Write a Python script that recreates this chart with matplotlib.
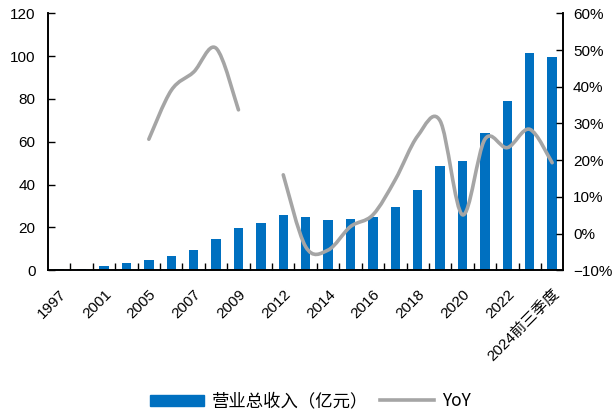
import matplotlib
matplotlib.use("Agg")
import matplotlib.pyplot as plt
from matplotlib.path import Path
from matplotlib.patches import PathPatch, Patch
from matplotlib.lines import Line2D
from matplotlib.ticker import FuncFormatter
from matplotlib.transforms import ScaledTranslation

plt.rcParams["font.family"] = ["Liberation Sans", "Noto Sans CJK SC", "DejaVu Sans"]

years = ["1997", "1999", "2001", "2003", "2005", "2006", "2007", "2008", "2009",
         "2011", "2012", "2013", "2014", "2015", "2016", "2017", "2018", "2019",
         "2020", "2021", "2022", "2023", "2024前三季度"]
revenue = [0.4, 0.7, 1.8, 3.6, 4.8, 6.6, 9.6, 14.7, 19.8,
           22.3, 25.9, 25.0, 23.7, 24.0, 25.1, 29.5, 37.3, 48.8,
           51.1, 64.1, 79.2, 101.3, 99.8]
yoy = [None, None, None, None, 25.7, 39.0, 44.0, 50.5, 33.7,
       None, 16.0, -3.6, -4.5, 1.9, 5.1, 14.7, 26.6, 30.7,
       5.1, 25.7, 23.4, 28.4, 19.3]

BAR = "#0070C0"
GRAY = "#A5A5A5"


def smooth_path(xs, ys):
    # Excel-like smoothed line: cubic Bezier through every point
    pts = list(zip(xs, ys))
    verts = [pts[0]]
    codes = [Path.MOVETO]
    n = len(pts)
    for i in range(n - 1):
        p0 = pts[i - 1] if i > 0 else pts[i]
        p1 = pts[i]
        p2 = pts[i + 1]
        p3 = pts[i + 2] if i + 2 < n else pts[i + 1]
        c1 = (p1[0] + (p2[0] - p0[0]) / 6, p1[1] + (p2[1] - p0[1]) / 6)
        c2 = (p2[0] - (p3[0] - p1[0]) / 6, p2[1] - (p3[1] - p1[1]) / 6)
        verts += [c1, c2, p2]
        codes += [Path.CURVE4] * 3
    return Path(verts, codes)


fig = plt.figure(figsize=(6.13, 4.12), dpi=100)
ax = fig.add_axes([0.0783, 0.344, 0.8407, 0.6237])
ax2 = ax.twinx()

x = list(range(len(years)))
ax.bar(x, revenue, width=0.42, color=BAR, zorder=2)
ax.set_xlim(-0.5, len(years) - 0.5)
ax.set_ylim(0, 120)
ax.set_yticks(range(0, 121, 20))
ax2.set_ylim(-10, 60)
ax2.set_yticks(range(-10, 61, 10))
ax2.yaxis.set_major_formatter(FuncFormatter(lambda v, p: f"{v:.0f}%".replace("-", "\u2212")))

# split the YoY series into continuous runs and draw each as a smoothed line
runs, cur = [], []
for i, v in enumerate(yoy):
    if v is None:
        if cur:
            runs.append(cur)
        cur = []
    else:
        cur.append(i)
if cur:
    runs.append(cur)
for run in runs:
    path = smooth_path(run, [yoy[i] for i in run])
    ax2.add_patch(PathPatch(path, fill=False, edgecolor=GRAY, lw=2.6,
                            capstyle="round", joinstyle="round", zorder=3))

ax.set_xticks(x[::2])
ax.set_xticklabels(years[::2], rotation=45, ha="right", va="top",
                   rotation_mode="anchor", fontsize=11)
shift = ScaledTranslation(-5 / 100, 0, fig.dpi_scale_trans)
for lbl in ax.get_xticklabels():
    lbl.set_transform(lbl.get_transform() + shift)
ax.set_xticks([i + 0.5 for i in x[:-1]], minor=True)
ax.tick_params(axis="x", which="major", length=0, pad=12)
ax.tick_params(axis="x", which="minor", direction="in", length=5, width=1)
ax.tick_params(axis="y", direction="in", length=5, width=1, pad=9, labelsize=11)
ax2.tick_params(axis="y", direction="in", length=5, width=1, pad=7, labelsize=11)

for a in (ax, ax2):
    a.spines["top"].set_visible(False)
    for s in ("left", "right", "bottom"):
        a.spines[s].set_linewidth(1.2)

handles = [Patch(color=BAR), Line2D([], [], color=GRAY, lw=2.6)]
fig.legend(handles, ["营业总收入（亿元）", "YoY"], loc="center",
           bbox_to_anchor=(0.506, 0.026), ncol=2, frameon=False,
           handlelength=3.1, handleheight=0.6, columnspacing=0.7, handletextpad=0.45,
           prop={"family": ["Noto Sans CJK SC", "DejaVu Sans"], "size": 12.5})

fig.savefig("out.png", dpi=100)
